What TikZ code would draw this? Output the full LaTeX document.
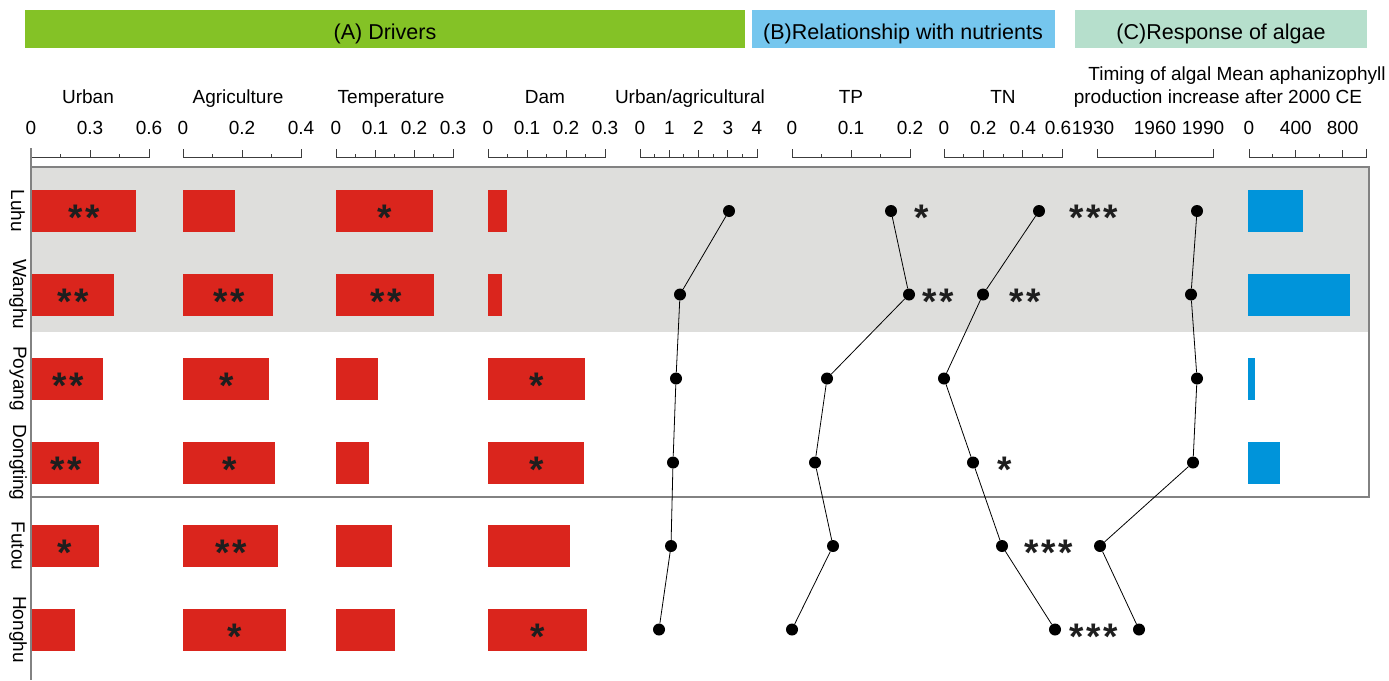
\documentclass[tikz,border=0pt]{standalone}
\usepackage{fontspec}
\setmainfont{Liberation Sans}
\definecolor{hgreen}{RGB}{132,194,38}
\definecolor{hblue}{RGB}{117,198,238}
\definecolor{hmint}{RGB}{182,223,204}
\definecolor{barred}{RGB}{218,37,29}
\definecolor{barblue}{RGB}{0,148,218}
\definecolor{panelgray}{RGB}{222,222,220}
\definecolor{framegray}{RGB}{130,130,130}
\definecolor{axgray}{RGB}{60,60,60}
\definecolor{starblack}{RGB}{30,30,30}
\newcommand\labfont{\fontsize{19}{22}\selectfont}
\newcommand\hdrfont{\fontsize{21.5}{24}\selectfont}
\newcommand\starfont{\fontsize{37}{40}\selectfont\bfseries}
\newcommand\sA{*}
\newcommand\sB{*\kern2.5pt*}
\newcommand\sC{*\kern2.5pt*\kern2.5pt*}
\newcommand\sbar[4]{%
  \draw[axline] (#1,149) -- (#1,157) -- (#2,157) -- (#2,149);
  \pgfmathtruncatemacro\nn{#3-1}%
  \foreach \i in {1,...,\nn}{%
    \pgfmathsetmacro\xx{#1+(#2-#1)*\i/#3}%
    \pgfmathtruncatemacro\mm{mod(\i,#4)}%
    \ifnum\mm=0 \draw[axline] (\xx,157) -- (\xx,150);
    \else \draw[axline] (\xx,157) -- (\xx,154);\fi
  }%
}
\begin{document}
\begin{tikzpicture}[x=1pt,y=-1pt,
  hbox/.style={draw=none, inner sep=0, minimum height=38pt, anchor=north west},
  hdr/.style={anchor=base, inner sep=0, font=\hdrfont},
  collab/.style={anchor=base, inner sep=0, font=\labfont},
  ticklab/.style={anchor=base, inner sep=0, font=\labfont},
  rowlab/.style={inner sep=0, font=\labfont, rotate=-90},
  axline/.style={draw=axgray, line width=0.8pt},
  frameline/.style={draw=framegray, line width=1.5pt},
  sig/.style={anchor=north, inner sep=0, font=\starfont, text=starblack},
  dot/.style={circle, fill=black, inner sep=0, minimum size=12pt},
  conn/.style={draw=black, line width=0.8pt}]
\useasboundingbox (0,0) rectangle (1389,680);
\def\rA{211}\def\rB{294.5}\def\rC{378.5}\def\rD{462.5}\def\rE{546}\def\rF{629.5}
% headers
\node[hbox, fill=hgreen, minimum width=720pt] (hA) at (25,10) {};
\node[hbox, fill=hblue, minimum width=303pt] (hB) at (752,10) {};
\node[hbox, fill=hmint, minimum width=292pt] (hC) at (1075,10) {};
\node[hdr] (hAt) at (385,39) {(A) Drivers};
\node[hdr] (hBt) at (903,39) {(B)Relationship with nutrients};
\node[hdr] (hCt) at (1221,39) {(C)Response of algae};
% column labels
\node[collab] (cUrban) at (88,103) {Urban};
\node[collab] (cAgri) at (238,103) {Agriculture};
\node[collab] (cTemp) at (391,103) {Temperature};
\node[collab] (cDam) at (545,103) {Dam};
\node[collab] (cUA) at (690,103) {Urban/agricultural};
\node[collab] (cTP) at (851,103) {TP};
\node[collab] (cTN) at (1003,103) {TN};
\node[collab] (cR1) at (1237,80) {Timing of algal Mean aphanizophyll};
\node[collab] (cR2) at (1218,103) {production increase after 2000 CE};
% tick labels
\foreach \x/\t [count=\k] in {31/0, 90/0.3, 149/0.6, 183/0, 242/0.2, 301/0.4,
  336/0, 375/0.1, 414/0.2, 453/0.3, 488/0, 527/0.1, 566/0.2, 605/0.3,
  640/0, 669.3/1, 698.5/2, 727.8/3, 757/4, 792/0, 851/0.1, 910/0.2,
  944/0, 983.3/0.2, 1022.7/0.4, 1058/0.6, 1093/1930, 1155/1960, 1203/1990,
  1249/0, 1295.8/400, 1342.6/800}
  \node[ticklab] (tl\k) at (\x,134) {\t};
% scale bars
\sbar{31}{149}{4}{2}
\sbar{183}{301}{4}{2}
\sbar{336}{453}{6}{2}
\sbar{488}{605}{6}{2}
\sbar{640}{757}{8}{2}
\sbar{792}{910}{4}{2}
\sbar{944}{1062}{6}{2}
\sbar{1097}{1213}{2}{1}
\sbar{1249}{1366}{5}{2}
% panel and frame
\fill[panelgray] (31,167) rectangle (1369,332);
\draw[frameline] (31,148) -- (31,680);
\draw[frameline] (31,167) -- (1369,167) -- (1369,497) -- (31,497);
% row labels
\node[rowlab] (lLuhu) at (18,\rA) {Luhu};
\node[rowlab] (lWanghu) at (18,\rB) {Wanghu};
\node[rowlab] (lPoyang) at (18,\rC) {Poyang};
\node[rowlab] (lDongting) at (18,\rD) {Dongting};
\node[rowlab] (lFutou) at (18,\rE) {Futou};
\node[rowlab] (lHonghu) at (18,\rF) {Honghu};
% red bars
\foreach \x/\r in {136/\rA,114/\rB,103/\rC,99/\rD,99/\rE,75/\rF}
  \fill[barred] (31.8,\r-21) rectangle (\x,\r+21);
\foreach \x/\r in {235/\rA,273/\rB,269/\rC,275/\rD,278/\rE,286/\rF}
  \fill[barred] (183,\r-21) rectangle (\x,\r+21);
\foreach \x/\r in {433/\rA,434/\rB,378/\rC,369/\rD,392/\rE,395/\rF}
  \fill[barred] (336,\r-21) rectangle (\x,\r+21);
\foreach \x/\r in {507/\rA,502/\rB,585/\rC,584/\rD,570/\rE,587/\rF}
  \fill[barred] (488,\r-21) rectangle (\x,\r+21);
% blue bars
\foreach \x/\r in {1303/\rA,1350/\rB,1255/\rC,1280/\rD}
  \fill[barblue] (1248,\r-21) rectangle (\x,\r+21);
% dots
\foreach \n/\x/\r in {1/729/\rA,2/680/\rB,3/676/\rC,4/673/\rD,5/671/\rE,6/659/\rF}
  \node[dot] (ua\n) at (\x,\r) {};
\foreach \n/\x/\r in {1/891/\rA,2/909/\rB,3/827/\rC,4/815/\rD,5/833/\rE,6/792/\rF}
  \node[dot] (tp\n) at (\x,\r) {};
\foreach \n/\x/\r in {1/1039/\rA,2/983/\rB,3/944/\rC,4/973/\rD,5/1002/\rE,6/1055/\rF}
  \node[dot] (tn\n) at (\x,\r) {};
\foreach \n/\x/\r in {1/1197/\rA,2/1191/\rB,3/1197/\rC,4/1193/\rD,5/1100/\rE,6/1139/\rF}
  \node[dot] (ti\n) at (\x,\r) {};
\draw[conn] (ua1) -- (ua2) -- (ua3) -- (ua4) -- (ua5) -- (ua6);
\draw[conn] (tp1) -- (tp2) -- (tp3) -- (tp4) -- (tp5) -- (tp6);
\draw[conn] (tn1) -- (tn2) -- (tn3) -- (tn4) -- (tn5) -- (tn6);
\draw[conn] (ti1) -- (ti2) -- (ti3) -- (ti4) -- (ti5) -- (ti6);
% significance stars
\foreach \x/\r/\s [count=\k] in {84/\rA/\sB, 73/\rB/\sB, 68/\rC/\sB, 66/\rD/\sB, 65/\rE/\sA,
  229/\rB/\sB, 227/\rC/\sA, 230/\rD/\sA, 231/\rE/\sB, 235/\rF/\sA,
  385/\rA/\sA, 386/\rB/\sB, 537/\rC/\sA, 537/\rD/\sA, 538/\rF/\sA,
  922/\rA/\sA, 938/\rB/\sB, 1094/\rA/\sC, 1025/\rB/\sB, 1005/\rD/\sA,
  1049/\rE/\sC, 1094/\rF/\sC}
  \node[sig] (sg\k) at (\x,\r-6) {\s};
\end{tikzpicture}
\end{document}
